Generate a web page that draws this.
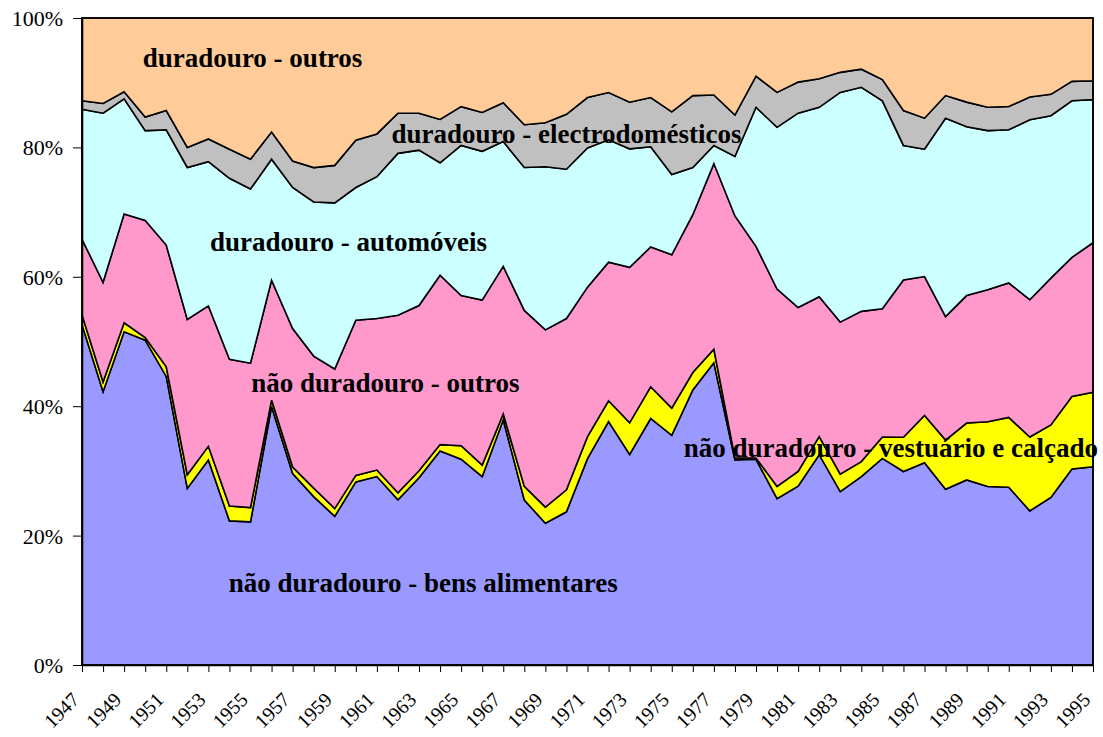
<!DOCTYPE html>
<html>
  <head>
    <meta charset="utf-8" />
    <title>estrutura do consumo</title>
    <script src="https://d3js.org/d3.v7.min.js"></script>
    <style>
      body {
        margin: 0;
        background: #ffffff;
      }
      text {
        font-family: "Liberation Serif", "Times New Roman", serif;
      }
    </style>
  </head>
  <body>
    <script>
      // categories
      const years = [
        1947, 1948, 1949, 1950, 1951, 1952, 1953, 1954, 1955, 1956, 1957, 1958,
        1959, 1960, 1961, 1962, 1963, 1964, 1965, 1966, 1967, 1968, 1969, 1970,
        1971, 1972, 1973, 1974, 1975, 1976, 1977, 1978, 1979, 1980, 1981, 1982,
        1983, 1984, 1985, 1986, 1987, 1988, 1989, 1990, 1991, 1992, 1993, 1994,
        1995,
      ];

      // shares in %
      const bensAlimentares = [
        52.6, 42.2, 51.5, 50.2, 44.6, 27.3, 31.7, 22.3, 22.1, 39.9, 29.6, 26.0,
        23.0, 28.3, 29.1, 25.5, 28.9, 33.1, 31.8, 29.1, 37.9, 25.5, 21.9, 23.7,
        31.9, 37.6, 32.5, 38.1, 35.5, 42.5, 46.7, 31.7, 31.8, 25.7, 27.6, 32.5,
        26.8, 29.1, 31.9, 29.9, 31.3, 27.2, 28.6, 27.6, 27.5, 23.8, 25.9, 30.3,
        30.6,
      ];
      const vestuarioCalcado = [
        1.5, 1.5, 1.4, 0.4, 1.5, 2.1, 2.1, 2.3, 2.2, 1.0, 1.0, 1.3, 1.2, 1.0,
        1.0, 1.1, 1.1, 1.0, 2.1, 1.8, 0.9, 2.1, 2.5, 3.4, 3.4, 3.2, 4.9, 4.9,
        4.2, 2.7, 2.1, 0.3, 0.2, 1.9, 2.3, 2.8, 2.7, 2.3, 3.3, 5.3, 7.3, 7.6,
        8.8, 10.0, 10.8, 11.4, 11.2, 11.2, 11.5,
      ];
      const naoDuradouroOutros = [
        11.7, 15.4, 16.8, 18.1, 18.8, 24.0, 21.7, 22.7, 22.3, 18.5, 21.4, 20.4,
        21.6, 24.0, 23.4, 27.4, 25.5, 26.2, 23.2, 25.5, 22.8, 27.2, 27.4, 26.5,
        23.1, 21.4, 24.0, 21.6, 23.7, 24.4, 28.7, 37.4, 32.7, 30.5, 25.3, 21.6,
        23.5, 23.2, 19.8, 24.3, 21.5, 19.1, 19.7, 20.4, 20.8, 21.2, 22.7, 21.5,
        23.1,
      ];
      const automoveis = [
        20.1, 26.1, 17.8, 13.9, 17.8, 23.5, 22.3, 28.0, 26.9, 18.7, 21.8, 23.8,
        25.7, 20.5, 21.9, 25.0, 24.0, 17.4, 23.2, 23.0, 19.3, 22.1, 25.2, 23.1,
        21.5, 18.9, 18.3, 15.5, 12.4, 7.3, 2.8, 9.2, 21.5, 25.0, 30.0, 29.3,
        35.5, 34.6, 32.1, 20.8, 19.7, 30.7, 26.1, 24.6, 23.7, 27.8, 25.1, 24.2,
        22.1,
      ];
      const electrodomesticos = [
        1.3, 1.5, 1.1, 2.1, 3.0, 3.1, 3.5, 4.5, 4.6, 4.2, 4.1, 5.3, 5.8, 7.3,
        6.6, 6.2, 5.7, 6.7, 6.0, 6.0, 6.0, 6.6, 6.8, 8.5, 7.8, 7.3, 7.2, 7.6,
        9.7, 11.1, 7.8, 6.4, 4.8, 5.4, 4.8, 4.4, 3.1, 2.8, 3.3, 5.4, 4.8, 3.5,
        3.8, 3.6, 3.6, 3.5, 3.3, 3.0, 2.9,
      ];
      const duradouroOutros = [
        12.8, 13.2, 11.4, 15.3, 14.3, 20.0, 18.7, 20.3, 21.8, 17.6, 22.1, 23.1,
        22.8, 18.9, 17.9, 14.7, 14.7, 15.7, 13.7, 14.6, 13.1, 16.5, 16.2, 14.9,
        12.3, 11.5, 13.0, 12.3, 14.5, 12.0, 11.9, 15.0, 9.0, 11.5, 9.9, 9.4,
        8.4, 7.9, 9.5, 14.3, 15.5, 12.0, 13.0, 13.8, 13.7, 12.2, 11.8, 9.8,
        9.7,
      ];

      const yTicks = [0, 0.2, 0.4, 0.6, 0.8, 1];

      // series from bottom to top
      const series = [
        { key: "bensAlimentares", values: bensAlimentares, name: "não duradouro - bens alimentares", color: "#9999ff", lx: 1963.2, ly: 0.113 },
        { key: "vestuarioCalcado", values: vestuarioCalcado, name: "não duradouro - vestuário e calçado", color: "#ffff00", lx: 1985.4, ly: 0.321 },
        { key: "naoDuradouroOutros", values: naoDuradouroOutros, name: "não duradouro - outros", color: "#ff99cc", lx: 1961.4, ly: 0.422 },
        { key: "automoveis", values: automoveis, name: "duradouro - automóveis", color: "#ccffff", lx: 1959.65, ly: 0.64 },
        { key: "electrodomesticos", values: electrodomesticos, name: "duradouro - electrodomésticos", color: "#c0c0c0", lx: 1970.0, ly: 0.807 },
        { key: "duradouroOutros", values: duradouroOutros, name: "duradouro - outros", color: "#ffcc99", lx: 1955.1, ly: 0.925 },
      ];

      const table = years.map((yr, i) => {
        const row = { year: yr };
        series.forEach((s) => (row[s.key] = s.values[i]));
        return row;
      });

      const width = 1103;
      const height = 737;
      const margin = { top: 18, right: 10, bottom: 72, left: 82 };

      const svg = d3
        .select("body")
        .append("svg")
        .attr("width", width)
        .attr("height", height);

      const x = d3
        .scaleLinear()
        .domain([years[0], years[years.length - 1]])
        .range([margin.left, width - margin.right]);

      const y = d3
        .scaleLinear()
        .domain([0, 1])
        .range([height - margin.bottom, margin.top]);

      // 100% stacked areas
      const stacked = d3
        .stack()
        .keys(series.map((s) => s.key))
        .offset(d3.stackOffsetExpand)(table);

      const area = d3
        .area()
        .x((d) => x(d.data.year))
        .y0((d) => y(d[0]))
        .y1((d) => y(d[1]));

      svg
        .append("g")
        .selectAll("path")
        .data(stacked)
        .enter()
        .append("path")
        .attr("d", area)
        .attr("fill", (d, i) => series[i].color)
        .attr("stroke", "black")
        .attr("stroke-width", 1.6)
        .attr("stroke-linejoin", "miter");

      // plot frame
      svg
        .append("rect")
        .attr("x", margin.left)
        .attr("y", margin.top)
        .attr("width", width - margin.left - margin.right)
        .attr("height", height - margin.top - margin.bottom)
        .attr("fill", "none")
        .attr("stroke", "black")
        .attr("stroke-width", 1.6);

      // axes
      const xAxis = svg
        .append("g")
        .attr("transform", `translate(0,${height - margin.bottom})`)
        .call(
          d3
            .axisBottom(x)
            .tickValues(years)
            .tickFormat((d) => ((d - years[0]) % 2 === 0 ? d : ""))
            .tickSize(7)
            .tickSizeOuter(0)
        );
      xAxis.select(".domain").attr("stroke-width", 1.6);
      xAxis.selectAll(".tick line").attr("stroke-width", 1);
      xAxis
        .selectAll(".tick text")
        .attr("x", 0)
        .attr("y", 0)
        .attr("dy", 0)
        .attr("text-anchor", "end")
        .attr("transform", "translate(-2,36) rotate(-45)")
        .attr("font-size", 20)
        .attr("font-family", "'Liberation Serif', 'Times New Roman', serif");

      const yAxis = svg
        .append("g")
        .attr("transform", `translate(${margin.left},0)`)
        .call(
          d3
            .axisLeft(y)
            .tickValues(yTicks)
            .tickFormat(d3.format(".0%"))
            .tickSize(9)
            .tickSizeOuter(0)
        );
      yAxis.select(".domain").attr("stroke-width", 1.6);
      yAxis.selectAll(".tick line").attr("stroke-width", 1);
      yAxis
        .selectAll(".tick text")
        .attr("x", -19)
        .attr("dy", "0.34em")
        .attr("font-size", 22)
        .attr("font-family", "'Liberation Serif', 'Times New Roman', serif");

      // series labels inside the areas
      svg
        .append("g")
        .selectAll("text")
        .data(series)
        .enter()
        .append("text")
        .attr("x", (d) => x(d.lx))
        .attr("y", (d) => y(d.ly))
        .attr("text-anchor", "middle")
        .attr("font-size", 27)
        .attr("font-weight", "bold")
        .attr("fill", "black")
        .text((d) => d.name);
    </script>
  </body>
</html>
